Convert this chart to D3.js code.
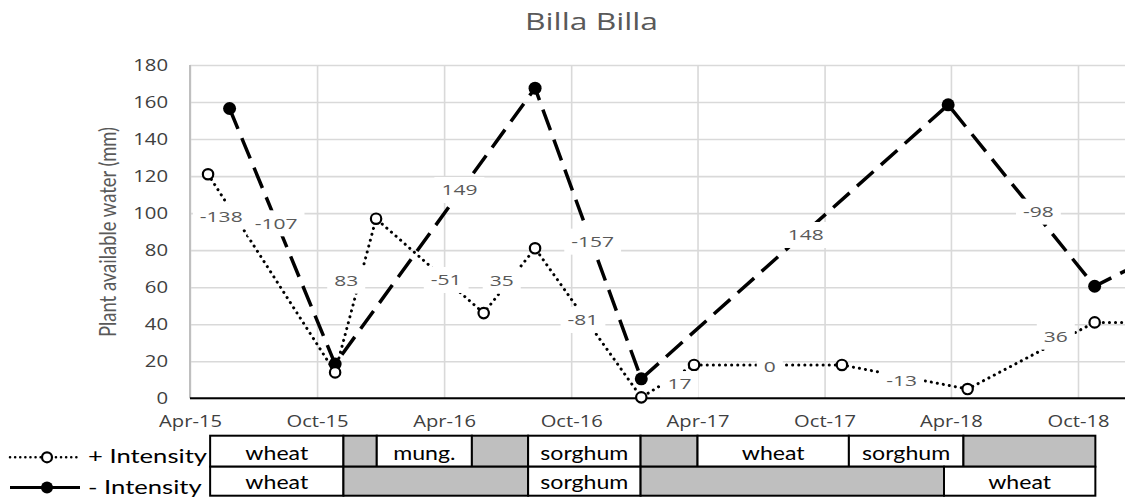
<!DOCTYPE html>
<html>
<head>
<meta charset="utf-8">
<script src="https://cdn.jsdelivr.net/npm/d3@7"></script>
<style>
  body { margin: 0; background: #fff; }
  svg { display: block; }
</style>
</head>
<body>
<div id="chart"></div>
<script>
// ---- data ----
const tickDates = ["2015-04-01", "2015-10-01", "2016-04-01", "2016-10-01", "2017-04-01", "2017-10-01", "2018-04-01", "2018-10-01"];
const yTicks = [0, 20, 40, 60, 80, 100, 120, 140, 160, 180];

// + Intensity (dotted, open markers)
const plusDates = ["2015-04-27", "2015-10-27", "2015-12-25", "2016-05-28", "2016-08-10", "2017-01-10", "2017-03-27", "2017-10-26", "2018-04-25", "2018-10-25", "2019-04-25"];
const plusValues = [121, 14, 97, 46, 81, 0.5, 18, 18, 5, 41, 41];

// - Intensity (dashed, filled markers)
const minusDates = ["2015-05-28", "2015-10-27", "2016-08-10", "2017-01-10", "2018-03-28", "2018-10-25", "2019-04-25"];
const minusValues = [156.5, 18.5, 167.5, 10.5, 158.5, 60.5, 95];

// change labels (text + where they sit, in data units)
const changeLabels = [
  {text: "-138", date: "2015-05-16", value: 98.4},
  {text: "-107", date: "2015-08-03", value: 94.5},
  {text: "149",  date: "2016-04-23", value: 112.5},
  {text: "83",   date: "2015-11-12", value: 63.5},
  {text: "-51",  date: "2016-04-04", value: 63.9},
  {text: "35",   date: "2016-06-23", value: 63.5},
  {text: "-157", date: "2016-11-01", value: 84.6},
  {text: "-81",  date: "2016-10-18", value: 42.3},
  {text: "17",   date: "2017-03-06", value: 7.7},
  {text: "0",    date: "2017-07-14", value: 17.1},
  {text: "148",  date: "2017-09-04", value: 88.2},
  {text: "-98",  date: "2018-08-05", value: 100.8},
  {text: "-13",  date: "2018-01-20", value: 9.5},
  {text: "36",   date: "2018-08-30", value: 33.3}
];

// crop sequence table ("" = fallow)
const plusCrops = [
  {crop: "wheat", start: "2015-04-30", end: "2015-11-08"},
  {crop: "", start: "2015-11-08", end: "2015-12-26"},
  {crop: "mung.", start: "2015-12-26", end: "2016-05-11"},
  {crop: "", start: "2016-05-11", end: "2016-07-31"},
  {crop: "sorghum", start: "2016-07-31", end: "2017-01-09"},
  {crop: "", start: "2017-01-09", end: "2017-04-01"},
  {crop: "wheat", start: "2017-04-01", end: "2017-11-05"},
  {crop: "sorghum", start: "2017-11-05", end: "2018-04-19"},
  {crop: "", start: "2018-04-19", end: "2018-10-26"}
];
const minusCrops = [
  {crop: "wheat", start: "2015-04-30", end: "2015-11-08"},
  {crop: "", start: "2015-11-08", end: "2016-07-31"},
  {crop: "sorghum", start: "2016-07-31", end: "2017-01-09"},
  {crop: "", start: "2017-01-09", end: "2018-03-22"},
  {crop: "wheat", start: "2018-03-22", end: "2018-10-26"}
];

// ---- layout ----
const width = 1125;
const height = 497;
const plot = {left: 190, right: 1078, top: 65, bottom: 398.3};
const parse = d3.timeParse("%Y-%m-%d");

const svg = d3.select("#chart")
  .append("svg")
    .attr("width", width)
    .attr("height", height);

// stretch text horizontally like the (widened) original
function stretch(sel, k) {
  sel.each(function() {
    const w = this.getComputedTextLength();
    d3.select(this).attr("textLength", w * k).attr("lengthAdjust", "spacingAndGlyphs");
  });
}

const x = d3.scaleTime()
  .domain([parse(tickDates[0]), parse(tickDates[tickDates.length - 1])])
  .range([plot.left, plot.right]);

const y = d3.scaleLinear()
  .domain([0, 180])
  .range([plot.bottom, plot.top]);

// horizontal grid + y labels
const yAxis = svg.append("g")
  .attr("transform", `translate(${plot.left},0)`)
  .call(d3.axisLeft(y).tickValues(yTicks).tickSize(-(width - plot.left)).tickPadding(22));
yAxis.select(".domain").remove();
yAxis.selectAll("line").attr("stroke", "#d9d9d9").attr("stroke-width", 1.6);
yAxis.selectAll("text")
  .attr("font-family", "Open Sans")
  .attr("font-size", 16)
  .attr("fill", "#404040")
  .call(stretch, 1.27);

// vertical grid + x labels
const xAxis = svg.append("g")
  .attr("transform", `translate(0,${plot.bottom})`)
  .call(d3.axisBottom(x)
    .tickValues(tickDates.map(parse))
    .tickFormat(d3.timeFormat("%b-%y"))
    .tickSize(-(plot.bottom - plot.top))
    .tickPadding(17));
xAxis.select(".domain").remove();
xAxis.selectAll("line").attr("stroke", "#d9d9d9").attr("stroke-width", 1.6);
xAxis.selectAll("text")
  .attr("font-family", "Open Sans")
  .attr("font-size", 16)
  .attr("fill", "#404040")
  .call(stretch, 1.26);

// axis lines
svg.append("line")
  .attr("x1", plot.left).attr("x2", plot.left)
  .attr("y1", plot.top).attr("y2", plot.bottom)
  .attr("stroke", "#bfbfbf").attr("stroke-width", 2);
svg.append("line")
  .attr("x1", plot.left).attr("x2", width)
  .attr("y1", y(0)).attr("y2", y(0))
  .attr("stroke", "#000").attr("stroke-width", 2);

// title
svg.append("text")
  .attr("x", 591.5).attr("y", 29.5)
  .attr("text-anchor", "middle")
  .attr("font-family", "Open Sans")
  .attr("font-size", 23)
  .attr("fill", "#595959")
  .text("Billa Billa")
  .attr("textLength", 133).attr("lengthAdjust", "spacingAndGlyphs");

// y title
svg.append("text")
  .attr("transform", "translate(116,232) scale(1.3,1) rotate(-90)")
  .attr("text-anchor", "middle")
  .attr("font-family", "Lato")
  .attr("font-size", 17)
  .attr("fill", "#595959")
  .text("Plant available water (mm)")
  .attr("textLength", 210).attr("lengthAdjust", "spacingAndGlyphs");

// lines
const line = d3.line()
  .x(d => x(d.date))
  .y(d => y(d.value));

const minusData = minusDates.map((d, i) => ({date: parse(d), value: minusValues[i]}));
const plusData = plusDates.map((d, i) => ({date: parse(d), value: plusValues[i]}));

svg.append("path")
  .datum(minusData)
  .attr("d", line)
  .attr("fill", "none")
  .attr("stroke", "#000")
  .attr("stroke-width", 3.5)
  .attr("stroke-dasharray", "22,10");

svg.append("path")
  .datum(plusData)
  .attr("d", line)
  .attr("fill", "none")
  .attr("stroke", "#000")
  .attr("stroke-width", 3)
  .attr("stroke-linecap", "round")
  .attr("stroke-dasharray", "0.1,6");

svg.selectAll(".minus-pt")
  .data(minusData)
  .enter()
  .append("circle")
    .attr("class", "minus-pt")
    .attr("cx", d => x(d.date))
    .attr("cy", d => y(d.value))
    .attr("r", 6.5)
    .attr("fill", "#000");

svg.selectAll(".plus-pt")
  .data(plusData)
  .enter()
  .append("circle")
    .attr("class", "plus-pt")
    .attr("cx", d => x(d.date))
    .attr("cy", d => y(d.value))
    .attr("r", 5.2)
    .attr("fill", "#fff")
    .attr("stroke", "#000")
    .attr("stroke-width", 2.2);

// change labels with white boxes
const labelG = svg.selectAll(".chg")
  .data(changeLabels)
  .enter()
  .append("g")
    .attr("class", "chg")
    .attr("transform", d => `translate(${x(parse(d.date))},${y(d.value)})`);

labelG.append("text")
  .attr("text-anchor", "middle")
  .attr("dy", "0.36em")
  .attr("font-family", "Open Sans")
  .attr("font-size", 15)
  .attr("fill", "#595959")
  .text(d => d.text)
  .call(stretch, 1.4);

labelG.each(function() {
  const g = d3.select(this);
  const w = +g.select("text").attr("textLength");
  g.insert("rect", "text")
    .attr("x", -w / 2 - 7)
    .attr("y", -13)
    .attr("width", w + 14)
    .attr("height", 26)
    .attr("fill", "#fff");
});

// crop table
const rows = [
  {crops: plusCrops, top: 435.7, bottom: 466.7},
  {crops: minusCrops, top: 466.7, bottom: 495.7}
];

rows.forEach(row => {
  const cell = svg.selectAll(null)
    .data(row.crops)
    .enter()
    .append("g");

  cell.append("rect")
    .attr("x", d => x(parse(d.start)))
    .attr("y", row.top)
    .attr("width", d => x(parse(d.end)) - x(parse(d.start)))
    .attr("height", row.bottom - row.top)
    .attr("fill", d => d.crop ? "#fff" : "#bfbfbf")
    .attr("stroke", "#000")
    .attr("stroke-width", 2);

  cell.filter(d => d.crop)
    .append("text")
    .attr("x", d => (x(parse(d.start)) + x(parse(d.end))) / 2)
    .attr("y", row.bottom - 7)
    .attr("text-anchor", "middle")
    .attr("font-family", "Lato")
    .attr("font-size", 18.5)
    .attr("fill", "#000")
    .text(d => d.crop)
    .call(stretch, 1.25);
});

// legend
const legend = [
  {label: "+ Intensity", cy: 457.3, dotted: true},
  {label: "- Intensity", cy: 487.5, dotted: false}
];

const leg = svg.selectAll(".leg")
  .data(legend)
  .enter()
  .append("g")
    .attr("class", "leg");

leg.append("line")
  .attr("x1", 10).attr("x2", 80)
  .attr("y1", d => d.cy).attr("y2", d => d.cy)
  .attr("stroke", "#000")
  .attr("stroke-width", d => d.dotted ? 2.5 : 3)
  .attr("stroke-linecap", d => d.dotted ? "round" : "butt")
  .attr("stroke-dasharray", d => d.dotted ? "0.1,5" : null);

leg.append("circle")
  .attr("cx", 47)
  .attr("cy", d => d.cy)
  .attr("r", d => d.dotted ? 5 : 6)
  .attr("fill", d => d.dotted ? "#fff" : "#000")
  .attr("stroke", "#000")
  .attr("stroke-width", d => d.dotted ? 2.2 : 0);

leg.append("text")
  .attr("x", 88)
  .attr("y", d => d.cy + 6)
  .attr("font-family", "Lato")
  .attr("font-size", 20)
  .attr("fill", "#000")
  .text(d => d.label)
  .call(stretch, 1.28);
</script>
</body>
</html>
